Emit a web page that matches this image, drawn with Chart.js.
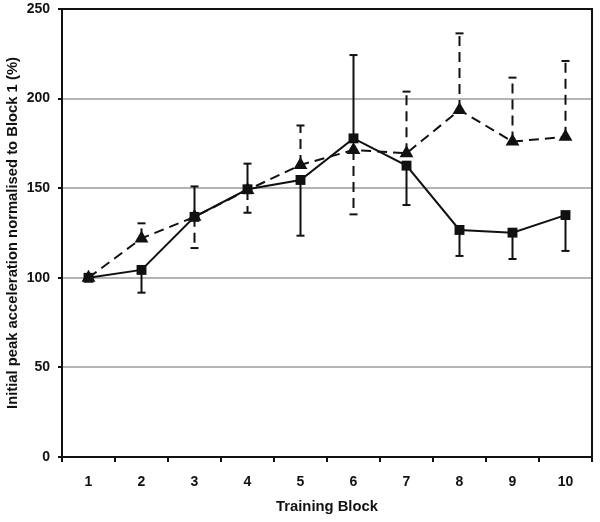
<!DOCTYPE html>
<html>
<head>
<meta charset="utf-8">
<script src="https://cdn.jsdelivr.net/npm/chart.js@4/dist/chart.umd.min.js"></script>
<style>
html,body{margin:0;padding:0;background:#fff;}
#wrap{width:600px;height:522px;}
</style>
</head>
<body>
<div id="wrap"><canvas id="chart" width="600" height="522"></canvas></div>
<script>
var blocks = ["1","2","3","4","5","6","7","8","9","10"];
// solid line, square markers
var squareVals = [100, 104.4, 134, 149.4, 154.6, 177.8, 162.6, 126.7, 125.2, 135];
var squareErrEnd = [null, 91.7, 151, 163.7, 123.5, 224.3, 140.6, 112.2, 110.5, 115];
// dashed line, triangle markers
var triVals = [100, 122, 134, 149, 163, 171.3, 169.5, 193.6, 176, 178.7];
var triErrEnd = [null, 130.4, 116.6, 136.3, 185, 135.4, 203.9, 236.4, 211.7, 221];
var yTicks = [0, 50, 100, 150, 200, 250];

var fontTick = {family:"Arial, 'Liberation Sans'", size:14, weight:"bold"};
var fontTitle = {family:"Arial, 'Liberation Sans'", size:14.8, weight:"bold"};

// one sided error bars, caps at the end
var errorBars = {
	id:"errorBars",
	beforeDatasetsDraw:function(chart){
		var ctx = chart.ctx, xs = chart.scales.x, ys = chart.scales.y;
		var sets = [ {vals:squareVals, ends:squareErrEnd, dash:[]}, {vals:triVals, ends:triErrEnd, dash:[10,6]} ];
		ctx.save();
		ctx.strokeStyle = "#111";
		ctx.lineWidth = 2;
		sets.forEach(function(s){
			s.ends.forEach(function(e, i){
				if(e === null) return;
				var x = xs.getPixelForValue(i);
				var y0 = ys.getPixelForValue(s.vals[i]), y1 = ys.getPixelForValue(e);
				ctx.setLineDash(s.dash);
				ctx.beginPath(); ctx.moveTo(x, y0); ctx.lineTo(x, y1); ctx.stroke();
				ctx.setLineDash([]);
				ctx.beginPath(); ctx.moveTo(x - 4, y1); ctx.lineTo(x + 4, y1); ctx.stroke();
			});
		});
		ctx.restore();
	}
};

// black frame on top and right
var frame = {
	id:"frame",
	afterDraw:function(chart){
		var a = chart.chartArea, ctx = chart.ctx;
		ctx.save();
		ctx.strokeStyle = "#111";
		ctx.lineWidth = 2;
		ctx.beginPath();
		ctx.moveTo(a.left, a.top); ctx.lineTo(a.right, a.top); ctx.lineTo(a.right, a.bottom + 5);
		ctx.stroke();
		ctx.restore();
	}
};

new Chart(document.getElementById("chart"), {
	type:"line",
	data:{
		labels:blocks,
		datasets:[
			{
				data:squareVals,
				borderColor:"#111", backgroundColor:"#111", borderWidth:2,
				pointStyle:"rect", pointRadius:7, pointBorderWidth:0,
				tension:0
			},
			{
				data:triVals,
				borderColor:"#111", backgroundColor:"#111", borderWidth:2, borderDash:[10,6],
				pointStyle:"triangle", pointRadius:8, pointBorderWidth:0,
				tension:0
			}
		]
	},
	options:{
		responsive:false, animation:false,
		layout:{ padding:{ top:0, right:7, left:0, bottom:0 } },
		plugins:{ legend:{display:false}, tooltip:{enabled:false} },
		scales:{
			x:{
				offset:true,
				grid:{ offset:true, drawOnChartArea:false, tickLength:5, tickColor:"#111", lineWidth:2 },
				border:{ color:"#111", width:2 },
				ticks:{ color:"#111", font:fontTick, padding:12, maxRotation:0 },
				title:{ display:true, text:"Training Block", color:"#111", font:fontTitle, padding:{top:0, bottom:6} },
				afterFit:function(s){ s.height = 65; }
			},
			y:{
				min:0, max:250,
				afterBuildTicks:function(s){ s.ticks = yTicks.map(function(v){ return {value:v}; }); },
				grid:{
					color:function(c){ return (c.tick.value === 0 || c.tick.value === 250) ? "rgba(0,0,0,0)" : "#b4b4b4"; },
					lineWidth:2, tickLength:4, tickColor:"#111"
				},
				border:{ color:"#111", width:2 },
				ticks:{ color:"#111", font:fontTick, padding:8 },
				title:{ display:true, text:"Initial peak acceleration normalised to Block 1 (%)", color:"#111", font:fontTitle, padding:{top:4, bottom:0} },
				afterFit:function(s){ s.width = 62; s.paddingTop = 9; s.paddingBottom = 0; }
			}
		}
	},
	plugins:[errorBars, frame]
});
</script>
</body>
</html>
